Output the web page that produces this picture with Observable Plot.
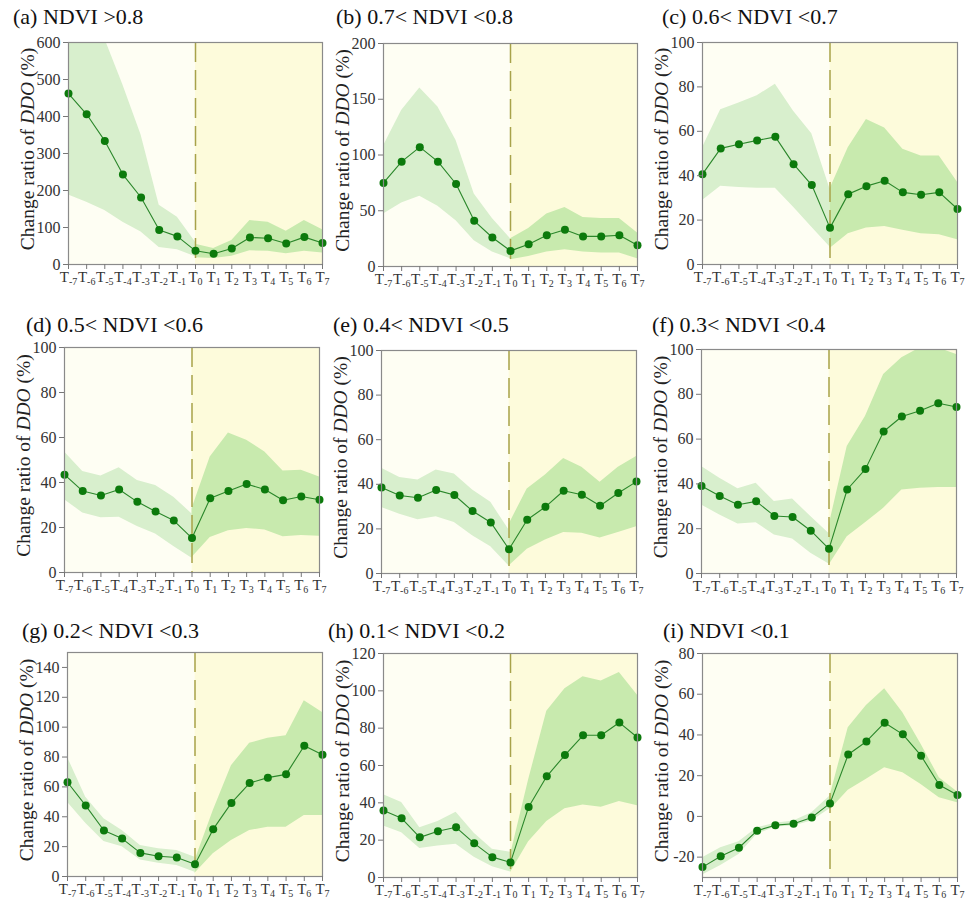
<!DOCTYPE html>
<html><head><meta charset="utf-8">
<script src="https://cdn.jsdelivr.net/npm/d3@7"></script>
<script src="https://cdn.jsdelivr.net/npm/@observablehq/plot@0.6"></script>
<style>
body{margin:0;background:#fff;width:968px;height:902px;position:relative;overflow:hidden;}
.panel{position:absolute;}
.title{position:absolute;font-size:22px;color:#111;white-space:nowrap;line-height:1;}
</style></head><body>
<script>
// time steps T-7 ... T7
const steps = [-7,-6,-5,-4,-3,-2,-1,0,1,2,3,4,5,6,7];
const preSteps = [-7,-6,-5,-4,-3,-2,-1,0];
const postSteps = [0,1,2,3,4,5,6,7];

const titles = ["(a) NDVI >0.8","(b) 0.7< NDVI <0.8","(c) 0.6< NDVI <0.7","(d) 0.5< NDVI <0.6","(e) 0.4< NDVI <0.5","(f) 0.3< NDVI <0.4","(g) 0.2< NDVI <0.3","(h) 0.1< NDVI <0.2","(i) NDVI <0.1"];

// y axis domains and ticks
const yDomA = [0,600], yTicksA = [0,100,200,300,400,500,600];
const yDomB = [0,200], yTicksB = [0,50,100,150,200];
const yDomC = [0,100], yTicksC = [0,20,40,60,80,100];
const yDomG = [0,150], yTicksG = [0,20,40,60,80,100,120,140];
const yDomH = [0,120], yTicksH = [0,20,40,60,80,100,120];
const yDomI = [-30,80], yTicksI = [-20,0,20,40,60,80];

// (a) NDVI > 0.8
const meanA   = [462,406,334,243,181,93,76,37,29,43,73,71,57,74,58];
const hiPreA  = [700,680,610,485,350,160,128,60];
const loPreA  = [188,168,146,114,88,46,40,21];
const hiPostA = [55,43,65,119,114,90,119,94];
const loPostA = [18,16,22,37,36,29,36,31];
// (b) 0.7 < NDVI < 0.8
const meanB   = [75,94,107,94,74,41,26,14,20,28,33,27,27,28,19];
const hiPreB  = [108,140,160,143,113,65,43,25];
const loPreB  = [47,57,63,54,41,23,13,7];
const hiPostB = [25,34,47,53,44,43,43,30];
const loPostB = [6,9,13,15,13,12,12,7];
// (c) 0.6 < NDVI < 0.7
const meanC   = [40.7,52.3,54.2,55.9,57.5,45.2,35.8,16.5,31.7,35.3,37.7,32.5,31.4,32.5,25];
const hiPreC  = [52.6,69.7,72.7,76,81.2,69,58.9,34];
const loPreC  = [28.8,35.2,34.7,34.4,34.3,25.8,16.8,7.9];
const hiPostC = [34,52.6,65.3,61.5,51.9,48.9,48.9,37];
const loPostC = [7.2,13.9,16.4,17.1,15.4,13.9,13.4,11.2];
// (d) 0.5 < NDVI < 0.6
const meanD   = [43.5,36.2,34.2,36.9,31.4,27.1,23.1,15.3,33,36.2,39.3,36.9,32.1,33.8,32.3];
const hiPreD  = [53.6,44.9,42.9,46.6,40.9,38.7,33.5,26];
const loPreD  = [32.3,26.5,24.3,24.6,20.4,17.1,11.6,6.3];
const hiPostD = [28.3,51.3,62,58.8,53.6,45.1,45.4,42.4];
const loPostD = [6.7,15.6,18.6,19.6,18.9,15.9,16.4,16.1];
// (e) 0.4 < NDVI < 0.5
const meanE   = [38.6,35,34,37.4,35.2,28,22.9,10.9,24.1,29.9,37.1,35.3,30.4,36.1,41.2];
const hiPreE  = [47.2,43.1,41.9,46.4,44.6,37.4,31.9,19.5];
const loPreE  = [29.6,26.6,24.1,25.4,22.9,16.9,12,3.4];
const hiPostE = [22,37.9,44.2,51.6,47.6,40.9,47.6,52.5];
const loPostE = [3.4,10.9,15,18.4,18,15.9,18.4,21];
// (f) 0.3 < NDVI < 0.4
const meanF   = [39.1,34.6,30.7,32.2,25.7,25.2,19.1,11,37.5,46.6,63.4,70.1,72.7,76,74.3];
const hiPreF  = [47.8,42.5,37.8,40.3,32.1,33.3,25.4,17.9];
const loPreF  = [30.6,26.1,22.1,22.7,17.2,15.4,9,4.2];
const hiPostF = [21.3,56.7,70.1,88.8,96.3,100.7,100.7,97.8];
const loPostF = [3.7,16.4,22.7,29.1,37.3,38.1,38.4,38.4];
// (g) 0.2 < NDVI < 0.3
const meanG   = [63.1,47.5,30.8,25.4,15.8,13.6,12.7,8.2,31.7,49.3,62.6,66.2,68.4,87.6,81.6];
const hiPreG  = [79.8,53,38.6,30.8,20.7,18.5,17.4,12.9];
const loPreG  = [49.7,35.7,23.4,20,11.1,8.9,7.4,2.9];
const hiPostG = [10.7,44.1,74.2,89.2,92.5,94.3,117.7,109.9];
const loPostG = [2.2,15.2,24.1,30.8,33,33,40.8,40.8];
// (h) 0.1 < NDVI < 0.2
const meanH   = [35.9,31.7,21.5,24.8,26.9,18.3,10.9,8.1,37.8,54.2,65.6,76.2,76.2,83,75];
const hiPreH  = [44.3,40.2,26.7,30,35,23.7,15.1,13.5];
const loPreH  = [27.6,24,15.6,16.9,17.8,10.8,5.7,3];
const hiPostH = [12,52.4,89.1,101.1,107.6,105.3,109.8,97.6];
const loPostH = [2.7,19.2,30,36.8,38.9,37.7,40.7,38.4];
// (i) NDVI < 0.1
const meanI   = [-24.9,-19.6,-15.4,-7,-4.3,-3.6,-0.5,6.4,30.4,36.8,46,40.3,29.8,15.4,10.5];
const hiPreI  = [-20.3,-15.4,-12.4,-5.6,-3.4,-2.3,1.8,10];
const loPreI  = [-28.8,-24.1,-18.7,-8.8,-5.2,-4.7,-2.3,3.8];
const hiPostI = [10,43.5,54.5,62.7,50.9,35.4,19,12];
const loPostI = [3.1,12.9,18.2,23.9,21.4,15.7,9.2,6.7];

const panels = [
  {t:titles[0], mean:meanA, hp:hiPreA, lp:loPreA, ha:hiPostA, la:loPostA, yd:yDomA, yt:yTicksA, fr:[68,322,42,264], tx:13, ty:24},
  {t:titles[1], mean:meanB, hp:hiPreB, lp:loPreB, ha:hiPostB, la:loPostB, yd:yDomB, yt:yTicksB, fr:[383,637,43,266], tx:336, ty:24},
  {t:titles[2], mean:meanC, hp:hiPreC, lp:loPreC, ha:hiPostC, la:loPostC, yd:yDomC, yt:yTicksC, fr:[702,957,42,264], tx:662, ty:24},
  {t:titles[3], mean:meanD, hp:hiPreD, lp:loPreD, ha:hiPostD, la:loPostD, yd:yDomC, yt:yTicksC, fr:[64,319,347,572], tx:26, ty:332},
  {t:titles[4], mean:meanE, hp:hiPreE, lp:loPreE, ha:hiPostE, la:loPostE, yd:yDomC, yt:yTicksC, fr:[381,636,350,573], tx:333, ty:332},
  {t:titles[5], mean:meanF, hp:hiPreF, lp:loPreF, ha:hiPostF, la:loPostF, yd:yDomC, yt:yTicksC, fr:[701,956,349,573], tx:652, ty:332},
  {t:titles[6], mean:meanG, hp:hiPreG, lp:loPreG, ha:hiPostG, la:loPostG, yd:yDomG, yt:yTicksG, fr:[67,322,652,876], tx:22, ty:638},
  {t:titles[7], mean:meanH, hp:hiPreH, lp:loPreH, ha:hiPostH, la:loPostH, yd:yDomH, yt:yTicksH, fr:[383,637,653,877], tx:328, ty:638},
  {t:titles[8], mean:meanI, hp:hiPreI, lp:loPreI, ha:hiPostI, la:loPostI, yd:yDomI, yt:yTicksI, fr:[702,957,653,877], tx:663, ty:638}
];

const ML = 62, MR = 10, MT = 8, MB = 30;
const FONT = "'Liberation Serif', 'Times New Roman'";

panels.forEach(p => {
  const [fl, frr, ft, fb] = p.fr;
  const W = (frr - fl) + ML + MR, H = (fb - ft) + MT + MB;
  const meanData = steps.map((s,i) => ({x:s, y:p.mean[i]}));
  const preData = preSteps.map((s,i) => ({x:s, lo:p.lp[i], hi:p.hp[i]}));
  const postData = postSteps.map((s,i) => ({x:s, lo:p.la[i], hi:p.ha[i]}));
  const bgPre = [{x1:-7, x2:0, y1:p.yd[0], y2:p.yd[1]}];
  const bgPost = [{x1:0, x2:7, y1:p.yd[0], y2:p.yd[1]}];
  const svg = Plot.plot({
    width: W, height: H, marginLeft: ML, marginRight: MR, marginTop: MT, marginBottom: MB,
    x: {domain: [-7,7], axis: null},
    y: {domain: p.yd, axis: null},
    style: {fontSize: "15px", color: "#333", background: "transparent", overflow: "visible"},
    marks: [
      Plot.rect(bgPre, {x1:"x1", x2:"x2", y1:"y1", y2:"y2", fill:"#fefef3"}),
      Plot.rect(bgPost, {x1:"x1", x2:"x2", y1:"y1", y2:"y2", fill:"#fdfbdb"}),
      Plot.areaY(preData, {x:"x", y1:"lo", y2:"hi", fill:"#d8efcd", clip:true}),
      Plot.areaY(postData, {x:"x", y1:"lo", y2:"hi", fill:"#c8eaae", clip:true}),
      Plot.ruleX([0], {stroke:"#a8a24a", strokeWidth:1.5, strokeDasharray:"20,8"}),
      Plot.line(meanData, {x:"x", y:"y", stroke:"#2a862a", strokeWidth:1.1}),
      Plot.dot(meanData, {x:"x", y:"y", r:4, fill:"#0c7a0c", stroke:"none"}),
      Plot.frame({stroke:"#8a8a8a", strokeWidth:1.2}),
      Plot.axisX({ticks: steps, tickFormat: d => "T" + d, tickSize: 5, tickPadding: 2, fontSize: 15, stroke:"#777", fill:"#333"}),
      Plot.axisY({ticks: p.yt, tickFormat: d => String(d), tickSize: 5, tickPadding: 3, fontSize: 16, stroke:"#777", fill:"#333"})
    ]
  });
  svg.style.fontFamily = FONT;
  svg.setAttribute("font-family", FONT);
  // subscripts on T labels
  d3.select(svg).selectAll('g[aria-label="x-axis tick label"] text').each(function() {
    const s = this.textContent;
    const sub = s.slice(1);
    const el = d3.select(this);
    el.text(null);
    el.append("tspan").text("T");
    el.append("tspan").attr("font-size", "10px").attr("dy", "0.25em").text(sub);
  });
  // y-axis label
  const lab = d3.select(svg).append("text")
    .attr("transform", `translate(${ML - 41},${MT + (fb - ft) / 2 - 4}) rotate(-90)`)
    .attr("text-anchor", "middle").attr("dy", "0.35em")
    .attr("font-size", "19.5px").attr("fill", "#222");
  lab.append("tspan").text("Change ratio of ");
  lab.append("tspan").attr("font-style", "italic").text("DDO");
  lab.append("tspan").text(" (%)");
  d3.select(svg).selectAll("text").style("font-family", FONT);

  const wrap = document.createElement("div");
  wrap.className = "panel";
  wrap.style.left = (fl - ML) + "px";
  wrap.style.top = (ft - MT) + "px";
  wrap.appendChild(svg);
  document.body.appendChild(wrap);

  const t = document.createElement("div");
  t.className = "title";
  t.style.fontFamily = FONT;
  t.textContent = p.t;
  t.style.left = p.tx + "px";
  t.style.top = (p.ty - 18.4) + "px";
  document.body.appendChild(t);
});
</script>
</body></html>
